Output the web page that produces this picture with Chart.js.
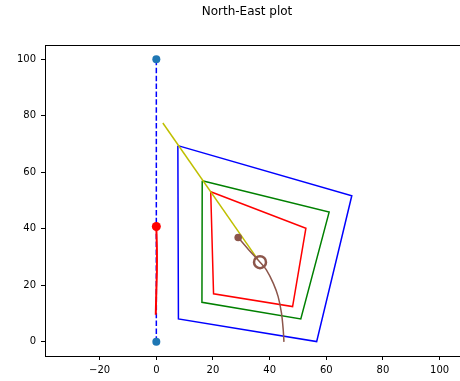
<!DOCTYPE html>
<html>
<head>
<meta charset="utf-8">
<script src="https://cdn.jsdelivr.net/npm/chart.js@4/dist/chart.umd.min.js"></script>
<style>
  html, body { margin: 0; padding: 0; background: #fff; overflow: hidden; }
  #chart { display: block; }
</style>
</head>
<body>
<canvas id="chart" width="460" height="381"></canvas>
<script>
const chartTitle = "North-East plot";
const xTicks = [-20, 0, 20, 40, 60, 80, 100];
const yTicks = [0, 20, 40, 60, 80, 100];

// vertical reference line and its end markers
const axisX = [0, 0];
const axisY = [0, 100];
// red track near x = 0
const redX = [0, 0.2, 0.2, 0, -0.2];
const redY = [40.8, 33, 25, 18, 9.6];
const redDotX = [0];
const redDotY = [40.8];
// quadrilaterals (closed)
const outerX = [7.6, 69.0, 56.6, 7.8, 7.6];
const outerY = [69.4, 51.7, 0.1, 8.1, 69.4];
const midX = [16.2, 61.0, 51.0, 16.1, 16.2];
const midY = [57.0, 45.9, 8.1, 14.0, 57.0];
const innerX = [19.2, 52.8, 48.1, 20.2, 19.2];
const innerY = [53.1, 40.2, 12.5, 17.0, 53.1];
// yellow diagonal
const diagX = [2.3, 35.8];
const diagY = [77.4, 29.2];
// brown path
const pathX = [28.9, 32.5, 36.6, 38.9, 41.3, 43.0, 44.2, 44.8, 45.05];
const pathY = [36.9, 32.7, 28.2, 25.4, 20.7, 16.0, 10.1, 4.2, 0];
const startX = [28.9];
const startY = [36.9];
const ringX = [36.6];
const ringY = [28.2];

const pts = (xs, ys) => xs.map((x, i) => ({ x: x, y: ys[i] }));

const line = (xs, ys, color, extra) => Object.assign({
  data: pts(xs, ys),
  showLine: true,
  borderColor: color,
  borderWidth: 1.5,
  pointRadius: 0,
  tension: 0,
  fill: false,
}, extra || {});

const dots = (xs, ys, color, r, extra) => Object.assign({
  data: pts(xs, ys),
  showLine: false,
  pointRadius: r,
  pointBackgroundColor: color,
  pointBorderColor: color,
  pointBorderWidth: 0,
}, extra || {});

// axes frame (top line) + title
const framePlugin = {
  id: "frame",
  afterDraw(chart) {
    const { ctx, chartArea } = chart;
    ctx.save();
    ctx.strokeStyle = "#000";
    ctx.lineWidth = 1;
    ctx.beginPath();
    ctx.moveTo(chartArea.left, chartArea.top + 0.5);
    ctx.lineTo(chartArea.right, chartArea.top + 0.5);
    ctx.stroke();
    ctx.fillStyle = "#000";
    ctx.font = "12px 'DejaVu Sans'";
    ctx.textAlign = "center";
    ctx.textBaseline = "middle";
    ctx.fillText(chartTitle, 247, 12);
    ctx.restore();
  }
};

const tickFont = { family: "'DejaVu Sans'", size: 10 };

new Chart(document.getElementById("chart"), {
  type: "scatter",
  data: {
    datasets: [
      dots(ringX, ringY, "rgba(0,0,0,0)", 6, { pointBorderColor: "#8c564b", pointBorderWidth: 2.5, order: 0 }),
      dots(startX, startY, "#8c564b", 3.8, { order: 1 }),
      line(pathX, pathY, "#8c564b", { tension: 0.3, order: 2 }),
      line(diagX, diagY, "#bfbf00", { order: 3 }),
      line(innerX, innerY, "#ff0000", { order: 4 }),
      line(midX, midY, "#008000", { order: 5 }),
      line(outerX, outerY, "#0000ff", { order: 6 }),
      dots(redDotX, redDotY, "#ff0000", 4.5, { order: 7 }),
      line(redX, redY, "#ff0000", { borderWidth: 2, tension: 0.3, order: 8 }),
      dots(axisX, axisY, "#1f77b4", 4, { order: 9 }),
      line(axisX, axisY, "#0000ff", { borderDash: [5.5, 2.4], order: 10 }),
    ]
  },
  options: {
    responsive: false,
    animation: false,
    events: [],
    layout: { autoPadding: false, padding: { top: 45, right: 0, left: 0, bottom: 0 } },
    plugins: {
      legend: { display: false },
      title: { display: false },
      tooltip: { enabled: false },
    },
    scales: {
      x: {
        type: "linear",
        min: -39.3,
        max: 107.2,
        afterBuildTicks: (scale) => { scale.ticks = xTicks.map(v => ({ value: v })); },
        afterFit: (scale) => {
          scale.height = 25;
          scale.paddingLeft = 0;
          scale.paddingRight = 0;
        },
        ticks: {
          color: "#000",
          font: tickFont,
          padding: 4,
          maxRotation: 0,
          callback: (v) => String(v).replace("-", "\u2212"),
        },
        grid: { drawOnChartArea: false, tickLength: 4, tickColor: "#000" },
        border: { display: true, color: "#000", width: 1 },
      },
      y: {
        type: "linear",
        min: -5,
        max: 105,
        afterBuildTicks: (scale) => { scale.ticks = yTicks.map(v => ({ value: v })); },
        afterFit: (scale) => {
          scale.width = 45;
          scale.paddingTop = 0;
          scale.paddingBottom = 0;
        },
        ticks: {
          color: "#000",
          font: tickFont,
          padding: 5,
          callback: (v) => String(v).replace("-", "\u2212"),
        },
        grid: { drawOnChartArea: false, tickLength: 4, tickColor: "#000" },
        border: { display: true, color: "#000", width: 1 },
      }
    }
  },
  plugins: [framePlugin]
});
</script>
</body>
</html>
